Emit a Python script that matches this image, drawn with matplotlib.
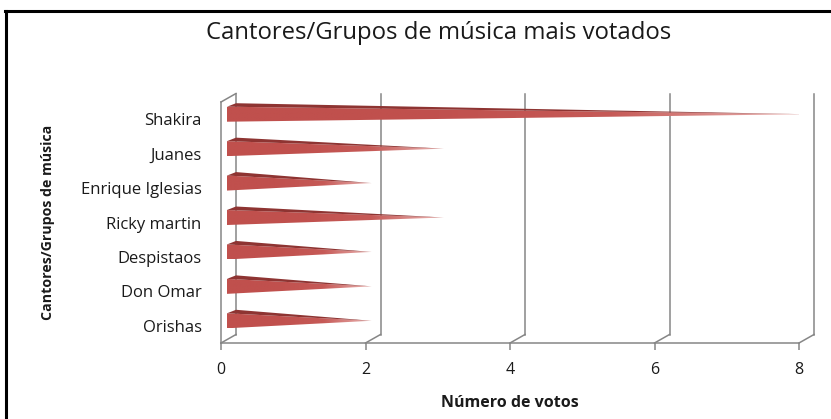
import numpy as np
import matplotlib
matplotlib.use("Agg")
import matplotlib.pyplot as plt
from matplotlib.patches import Polygon
from matplotlib.colors import LinearSegmentedColormap

plt.rcParams['font.family'] = ['Open Sans', 'DejaVu Sans']

# dados do gráfico
categorias = ["Shakira", "Juanes", "Enrique Iglesias", "Ricky martin",
              "Despistaos", "Don Omar", "Orishas"]
votos = [8, 3, 2, 3, 2, 2, 2]
ticks_x = [0, 2, 4, 6, 8]

titulo = "Cantores/Grupos de música mais votados"
rotulo_x = "Número de votos"
rotulo_y = "Cantores/Grupos de música"

W, H, DPI = 831, 419, 100
fig = plt.figure(figsize=(W / DPI, H / DPI), dpi=DPI)
fig.patch.set_facecolor("white")

# plano da frente em pixels
x0p, x1p, y0p, y1p = 221, 799, 343, 102
ax = fig.add_axes([x0p / W, 1 - y0p / H, (x1p - x0p) / W, (y0p - y1p) / H])
ax.set_facecolor("none")

n = len(categorias)
xmax = ticks_x[-1]
ax.set_xlim(0, xmax)
ax.set_ylim(-0.5, n - 0.5)

# conversao pixel -> unidade de dados
px_x = (x1p - x0p) / xmax
px_y = (y0p - y1p) / n
ddx = 15 / px_x           # profundidade 3D
ddy = 8.5 / px_y

grade = "#868686"
lw = 1.1

# paredes: linhas de grade no fundo e diagonais do chao
for t in ticks_x:
    ax.plot([t + ddx, t + ddx], [-0.5 + ddy, n - 0.5 + ddy], color=grade, lw=lw, clip_on=False)
    ax.plot([t, t + ddx], [-0.5, -0.5 + ddy], color=grade, lw=lw, clip_on=False)
ax.plot([0, xmax], [-0.5, -0.5], color=grade, lw=lw, clip_on=False)
ax.plot([0, 0], [-0.5, n - 0.5], color=grade, lw=lw, clip_on=False)
ax.plot([0, ddx], [n - 0.5, n - 0.5 + ddy], color=grade, lw=lw, clip_on=False)

# barras em forma de piramide
frente = LinearSegmentedColormap.from_list("frente", ["#C0504D", "#C0504D", "#C65A57", "#EBB5B3"])
topo_cor = "#8E3432"
h = 7.5 / px_y
for i, (nome, v) in enumerate(zip(categorias, votos)):
    yc = n - 1 - i + 5 / px_y
    bx = 6 / px_x
    tip = (v + 6 / px_x, yc)
    ft = (bx, yc + h)
    fb = (bx, yc - h)
    bt = (bx + 9 / px_x, yc + h + 3.5 / px_y)
    face = Polygon([fb, ft, tip], closed=True, facecolor="none", edgecolor="none")
    ax.add_patch(face)
    grad = np.linspace(0, 1, 256).reshape(1, -1)
    im = ax.imshow(grad, cmap=frente, extent=[bx, tip[0], yc - h, yc + h],
                   aspect="auto", origin="lower", zorder=3, interpolation="bilinear")
    im.set_clip_path(face)
    ax.add_patch(Polygon([ft, bt, tip], closed=True, facecolor=topo_cor,
                         edgecolor="none", zorder=4))

ax.set_xlim(0, xmax)
ax.set_ylim(-0.5, n - 0.5)

for s in ax.spines.values():
    s.set_visible(False)

ax.set_xticks(ticks_x)
ax.set_xticklabels([str(t) for t in ticks_x])
ax.tick_params(axis="x", length=5, width=lw, color=grade, pad=9,
               labelsize=11.5, labelcolor="#1a1a1a")
ax.set_yticks(range(n))
ax.set_yticklabels(categorias[::-1])
ax.tick_params(axis="y", length=0, pad=14, labelsize=12, labelcolor="#1a1a1a")

fig.text(439 / W, 1 - 33 / H, titulo, ha="center", va="center",
         fontsize=17.2, color="#1a1a1a")
fig.text(510 / W, 1 - 403 / H, rotulo_x, ha="center", va="center",
         fontsize=11.5, fontweight="bold", color="#1a1a1a")
fig.text(48 / W, 1 - 222 / H, rotulo_y, ha="center", va="center", rotation=90,
         fontsize=10.2, fontweight="bold", color="#1a1a1a")

# moldura (so topo e esquerda)
fig.add_artist(plt.Line2D([5 / W, 1], [1 - 11 / H, 1 - 11 / H], color="black", lw=2.2))
fig.add_artist(plt.Line2D([6 / W, 6 / W], [0, 1 - 11 / H], color="black", lw=2.2))

fig.savefig("out.png", dpi=DPI)
